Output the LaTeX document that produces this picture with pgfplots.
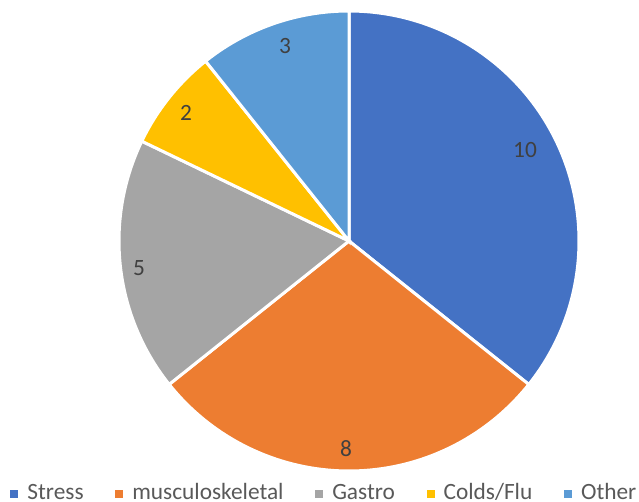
\documentclass[border=0pt]{standalone}
\usepackage{pgfplots}
\pgfplotsset{compat=1.18}
\usepackage{fontspec}
\setmainfont{Carlito}
\definecolor{cStress}{HTML}{4472C4}
\definecolor{cMusc}{HTML}{ED7D31}
\definecolor{cGastro}{HTML}{A5A5A5}
\definecolor{cColds}{HTML}{FFC000}
\definecolor{cOther}{HTML}{5B9BD5}
\definecolor{labtxt}{HTML}{404040}
\definecolor{legtxt}{HTML}{595959}
\begin{document}
\begin{tikzpicture}
% values: Stress 10, musculoskeletal 8, Gastro 5, Colds/Flu 2, Other 3 (total 28)
\def\vA{10}\def\vB{8}\def\vC{5}\def\vD{2}\def\vE{3}
\pgfmathsetmacro\tot{\vA+\vB+\vC+\vD+\vE}
\pgfmathsetmacro\aA{90}
\pgfmathsetmacro\aB{\aA-\vA*360/\tot}
\pgfmathsetmacro\aC{\aB-\vB*360/\tot}
\pgfmathsetmacro\aD{\aC-\vC*360/\tot}
\pgfmathsetmacro\aE{\aD-\vD*360/\tot}
\pgfmathsetmacro\aF{\aE-\vE*360/\tot}
\begin{axis}[
  scale only axis, width=479.25pt, height=376.5pt,
  xmin=-349, xmax=290, ymin=-261, ymax=241,
  hide axis,
  clip=false,
  legend columns=5,
  legend style={draw=none, fill=none, inner sep=0pt, outer sep=0pt,
    at={(0,0)}, anchor=south west, xshift=7.8pt, yshift=-1.5pt,
    font=\fontsize{17.5}{21}\selectfont, text=legtxt,
    /tikz/every odd column/.append style={column sep=4.75pt},
    /tikz/every even column/.append style={column sep=21.75pt},
    cells={anchor=base west, inner sep=0pt}},
  legend image code/.code={\path[#1,draw=none] (0pt,0.75pt) rectangle (6pt,6.75pt);},
]
\addplot[fill=cStress, draw=white, line width=2.25pt, domain=\aB:\aA, samples=120] ({230*cos(x)},{230*sin(x)}) -- (axis cs:0,0) -- cycle;
\addplot[fill=cMusc, draw=white, line width=2.25pt, domain=\aC:\aB, samples=100] ({230*cos(x)},{230*sin(x)}) -- (axis cs:0,0) -- cycle;
\addplot[fill=cGastro, draw=white, line width=2.25pt, domain=\aD:\aC, samples=80] ({230*cos(x)},{230*sin(x)}) -- (axis cs:0,0) -- cycle;
\addplot[fill=cColds, draw=white, line width=2.25pt, domain=\aE:\aD, samples=40] ({230*cos(x)},{230*sin(x)}) -- (axis cs:0,0) -- cycle;
\addplot[fill=cOther, draw=white, line width=2.25pt, domain=\aF:\aE, samples=50] ({230*cos(x)},{230*sin(x)}) -- (axis cs:0,0) -- cycle;
\legend{Stress, musculoskeletal, Gastro, Colds/Flu, Other}
\begin{scope}[every node/.style={font=\fontsize{17.5}{21}\selectfont, text=labtxt}]
\node at (axis cs:176,91) {10};
\node at (axis cs:-3,-208) {8};
\node at (axis cs:-210,-27) {5};
\node at (axis cs:-163,128) {2};
\node at (axis cs:-64,195) {3};
\end{scope}
\end{axis}
\pgfresetboundingbox
\path (0,0) rectangle (479.25pt,376.5pt);
\end{tikzpicture}
\end{document}
